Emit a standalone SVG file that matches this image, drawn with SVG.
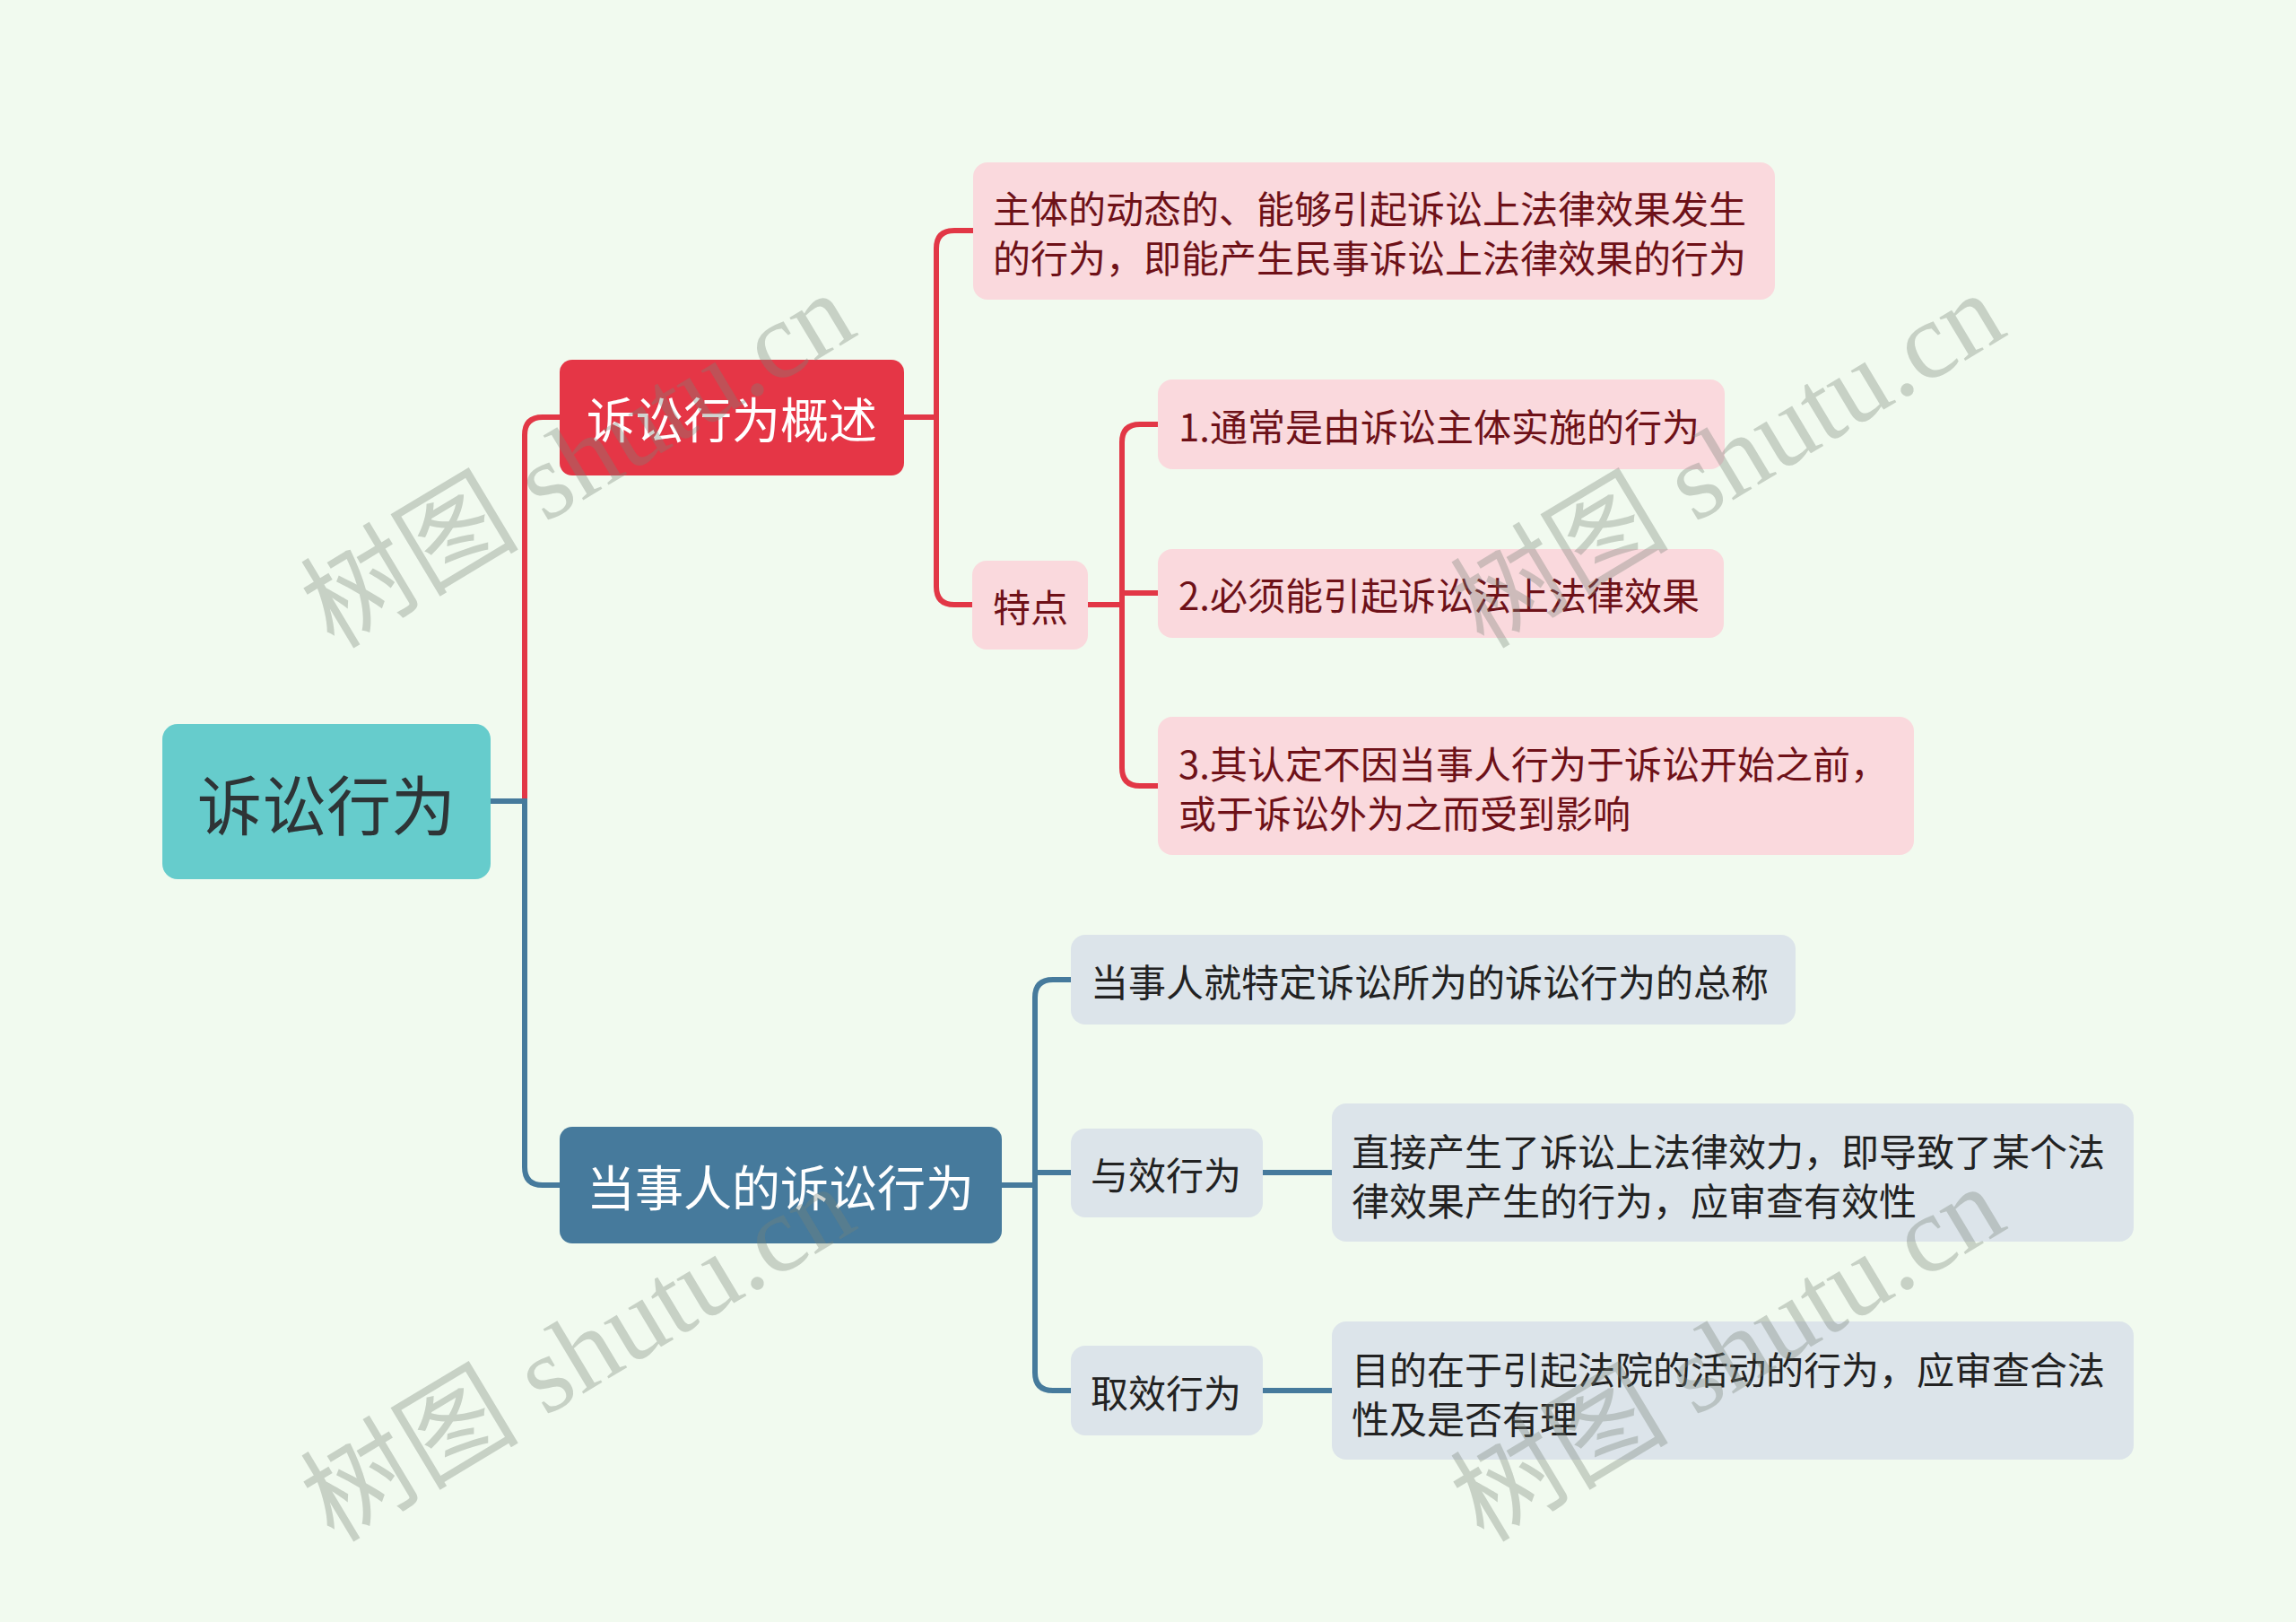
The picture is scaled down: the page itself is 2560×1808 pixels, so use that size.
<svg xmlns="http://www.w3.org/2000/svg" width="2560" height="1808" viewBox="0 0 2560 1808">
<style>
text{font-family:"Noto Sans CJK SC","Noto Sans",sans-serif;dominant-baseline:central}
.red{fill:none;stroke:#E23746;stroke-width:6}
.blue{fill:none;stroke:#467A9C;stroke-width:6}
.pink{fill:#FAD9DD}
.pt{font-size:42px;fill:#6E1118}
.gray{fill:#DCE4EA}
.gt{font-size:42px;fill:#222}
.wm{font-family:"Liberation Serif","Noto Sans CJK SC",serif;font-size:122px;fill:#788478;fill-opacity:0.35;dominant-baseline:auto}
</style>
<rect width="2560" height="1808" fill="#F1FAEF"/>
<g id="connectors">
<path class="red" d="M547,893 H585 V485 Q585,465 605,465 H624"/>
<path class="blue" d="M547,893 H585 V1301 Q585,1321 605,1321 H624"/>
<path class="red" d="M1008,465 H1044 V277 Q1044,257 1064,257 H1085"/>
<path class="red" d="M1044,465 V654 Q1044,674 1064,674 H1084"/>
<path class="red" d="M1213,674 H1251 V493 Q1251,473 1271,473 H1291"/>
<path class="red" d="M1251,674 V661 H1291"/>
<path class="red" d="M1251,674 V856 Q1251,876 1271,876 H1291"/>
<path class="blue" d="M1117,1321 H1154 V1112 Q1154,1092 1174,1092 H1194"/>
<path class="blue" d="M1154,1321 V1307 H1194"/>
<path class="blue" d="M1154,1321 V1530 Q1154,1550 1174,1550 H1194"/>
<path class="blue" d="M1408,1307 H1485"/>
<path class="blue" d="M1408,1550 H1485"/>
</g>
<g id="root">
<rect x="181" y="807" width="366" height="173" rx="17" fill="#66CCCC"/>
<text x="364" y="893" font-size="72" fill="#2E3436" text-anchor="middle">诉讼行为</text>
</g>
<g id="n-overview">
<rect x="624" y="401" width="384" height="129" rx="14" fill="#E53646"/>
<text x="816" y="465" font-size="54" fill="#fff" text-anchor="middle">诉讼行为概述</text>
</g>
<g id="n-party">
<rect x="624" y="1256" width="493" height="130" rx="14" fill="#467A9C"/>
<text x="870" y="1321" font-size="54" fill="#fff" text-anchor="middle">当事人的诉讼行为</text>
</g>
<g id="n-def">
<rect class="pink" x="1085" y="181" width="894" height="153" rx="16"/>
<text class="pt" x="1107" y="230">主体的动态的、能够引起诉讼上法律效果发生</text>
<text class="pt" x="1107" y="285">的行为，即能产生民事诉讼上法律效果的行为</text>
</g>
<g id="n-feature">
<rect class="pink" x="1084" y="625" width="129" height="99" rx="16"/>
<text class="pt" x="1107" y="674">特点</text>
</g>
<g id="n-f1">
<rect class="pink" x="1291" y="423" width="632" height="100" rx="16"/>
<text class="pt" x="1314" y="473">1.通常是由诉讼主体实施的行为</text>
</g>
<g id="n-f2">
<rect class="pink" x="1291" y="612" width="631" height="99" rx="16"/>
<text class="pt" x="1314" y="661">2.必须能引起诉讼法上法律效果</text>
</g>
<g id="n-f3">
<rect class="pink" x="1291" y="799" width="843" height="154" rx="16"/>
<text class="pt" x="1314" y="849">3.其认定不因当事人行为于诉讼开始之前，</text>
<text class="pt" x="1314" y="904">或于诉讼外为之而受到影响</text>
</g>
<g id="n-p1">
<rect class="gray" x="1194" y="1042" width="808" height="100" rx="16"/>
<text class="gt" x="1216" y="1092">当事人就特定诉讼所为的诉讼行为的总称</text>
</g>
<g id="n-p2">
<rect class="gray" x="1194" y="1258" width="214" height="99" rx="16"/>
<text class="gt" x="1216" y="1307">与效行为</text>
</g>
<g id="n-p2a">
<rect class="gray" x="1485" y="1230" width="894" height="154" rx="16"/>
<text class="gt" x="1507" y="1281">直接产生了诉讼上法律效力，即导致了某个法</text>
<text class="gt" x="1507" y="1336">律效果产生的行为，应审查有效性</text>
</g>
<g id="n-p3">
<rect class="gray" x="1194" y="1500" width="214" height="100" rx="16"/>
<text class="gt" x="1216" y="1550">取效行为</text>
</g>
<g id="n-p3a">
<rect class="gray" x="1485" y="1473" width="894" height="154" rx="16"/>
<text class="gt" x="1507" y="1524">目的在于引起法院的活动的行为，应审查合法</text>
<text class="gt" x="1507" y="1579">性及是否有理</text>
</g>
<g id="watermark">
<text class="wm" text-anchor="middle" transform="translate(645,514) rotate(-31)" y="40">树图 shutu.cn</text>
<text class="wm" text-anchor="middle" transform="translate(1927,514) rotate(-31)" y="40">树图 shutu.cn</text>
<text class="wm" text-anchor="middle" transform="translate(645,1510) rotate(-31)" y="40">树图 shutu.cn</text>
<text class="wm" text-anchor="middle" transform="translate(1927,1510) rotate(-31)" y="40">树图 shutu.cn</text>
</g>
</svg>
